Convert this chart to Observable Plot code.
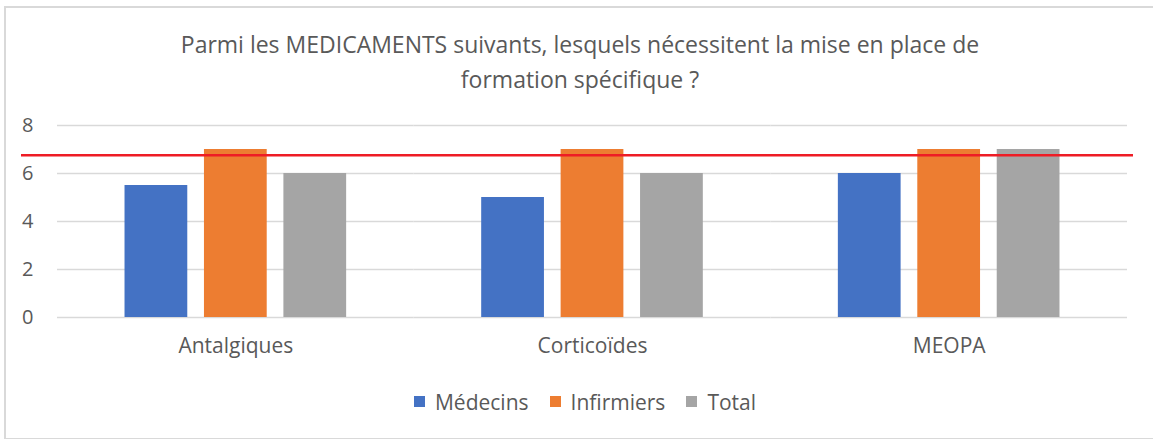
<!DOCTYPE html>
<html>
<head>
<meta charset="utf-8">
<script src="https://cdn.jsdelivr.net/npm/d3@7"></script>
<script src="https://cdn.jsdelivr.net/npm/@observablehq/plot@0.6"></script>
<style>
  html, body { margin: 0; padding: 0; background: #fff; }
  #wrap { position: relative; width: 1153px; height: 439px; overflow: hidden; background: #fff; font-family: "Open Sans", sans-serif; color: #595959; }
  #frame { position: absolute; left: 4px; top: 6px; width: 1160px; height: 430px; border: 2px solid #D9D9D9; }
  #title { position: absolute; left: 4px; top: 27px; width: 1152px; text-align: center; font-size: 23px; line-height: 35px; color: #595959; }
  #chart, #overlay { position: absolute; left: 0; top: 110px; }
  #legend { position: absolute; left: 9px; top: 385px; width: 1152px; display: flex; justify-content: center; }
  #legend span { font-size: 21px; color: #595959; margin-right: 21px !important; font-family: "Open Sans", sans-serif; }
  #legend span:last-child { margin-right: 0 !important; }
  #legend span svg { margin-right: 10px !important; }
</style>
</head>
<body>
<div id="wrap">
  <div id="frame"></div>
  <div id="title">Parmi les MEDICAMENTS suivants, lesquels nécessitent la mise en place de<br>formation spécifique ?</div>
  <div id="chart"></div>
  <div id="overlay"></div>
  <div id="legend"></div>
</div>
<script>
const categories = ["Antalgiques", "Corticoïdes", "MEOPA"];
const series = ["Médecins", "Infirmiers", "Total"];
const medecins = [5.5, 5, 6];
const infirmiers = [7, 7, 7];
const total = [6, 6, 7];
const yTicks = [0, 2, 4, 6, 8];
const threshold = [6.76];
const colors = ["#4472C4", "#ED7D31", "#A5A5A5"];

const valuesBySeries = [medecins, infirmiers, total];
const rows = [];
categories.forEach((c, i) => {
  series.forEach((s, j) => {
    rows.push({category: c, series: s, value: valuesBySeries[j][i]});
  });
});

const frame = {
  width: 1153,
  height: 255,
  marginTop: 15,
  marginBottom: 48,
  marginLeft: 57,
  marginRight: 26
};
const textStyle = {fontFamily: "'Open Sans', sans-serif", fontSize: "21px", color: "#595959", background: "transparent", overflow: "visible"};

const chart = Plot.plot({
  ...frame,
  style: textStyle,
  fx: {domain: categories, padding: 0, round: false, axis: "bottom", label: null, tickSize: 0, tickPadding: 21},
  x: {domain: series, axis: null, round: false, paddingInner: 0.21, paddingOuter: 0.85},
  y: {domain: [0, 8], ticks: yTicks, tickSize: 0, tickPadding: 24, label: null, tickFormat: d => String(d)},
  color: {domain: series, range: colors},
  marks: [
    Plot.ruleY(yTicks, {stroke: "#D9D9D9", strokeWidth: 1.5}),
    Plot.barY(rows, {fx: "category", x: "series", y: "value", fill: "series"})
  ]
});
chart.querySelectorAll("g[aria-label='y-axis tick label'] text, g[aria-label='y-axis'] text").forEach(t => t.setAttribute("font-size", "20"));
document.getElementById("chart").appendChild(chart);

const overlay = Plot.plot({
  ...frame,
  style: textStyle,
  x: {axis: null},
  y: {domain: [0, 8], axis: null},
  marks: [
    Plot.ruleY(threshold, {stroke: "#EE1C25", strokeWidth: 2.5, insetLeft: -36, insetRight: -6})
  ]
});
document.getElementById("overlay").appendChild(overlay);

const legend = Plot.legend({
  color: {domain: series, range: colors},
  legend: "swatches",
  swatchSize: 11
});
document.getElementById("legend").appendChild(legend);
</script>
</body>
</html>
